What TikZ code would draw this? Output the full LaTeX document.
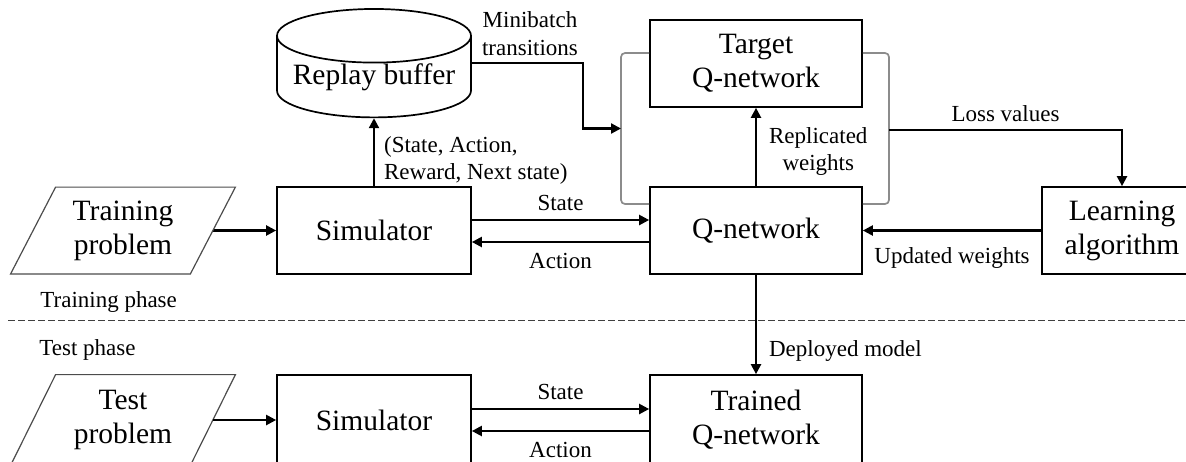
\documentclass[tikz,border=0pt]{standalone}
\usepackage{fontspec}
\setmainfont{Liberation Serif}
\usetikzlibrary{arrows.meta,shapes.geometric}

\newcommand{\boxfont}{\fontsize{14.75}{17}\selectfont}
\newcommand{\lblfont}{\fontsize{11.5}{13.75}\selectfont}

\begin{document}
\begin{tikzpicture}[x=0.5pt,y=-0.5pt,
  box/.style={draw,line width=0.85pt,minimum height=43.5pt,align=center,font=\boxfont,inner sep=0pt},
  probbox/.style={minimum width=89.5pt,minimum height=43pt,align=center,font=\boxfont,inner sep=0pt},
  probline/.style={draw=black!70,line width=0.6pt},
  arr/.style={line width=1.1pt,-{Triangle[length=5pt,width=5pt]}},
  lbl/.style={font=\lblfont,inner sep=2pt},
  frame/.style={draw=black!45,line width=0.85pt,rounded corners=2pt}]
  \useasboundingbox (0,0) rectangle (1186,461);

  % training phase
  \node[probbox] (trainprob) at (123,230.5) {Training\\problem};
  \node[box,minimum width=97pt] (sim) at (374,230.5) {Simulator};
  \node[draw,line width=0.85pt,cylinder,shape border rotate=90,aspect=0.33,
    minimum width=97pt,minimum height=54pt,font=\boxfont,inner sep=0pt] (buffer) at (374,77) {Replay buffer};
  \node[box,minimum width=106pt] (qnet) at (756,230.5) {Q-network};
  \node[box,minimum width=106pt] (target) at (756,63.5) {Target\\Q-network};
  \node[box,minimum width=80pt] (learn) at (1122,230.5) {Learning\\algorithm};

  % grey frame round both networks
  \draw[frame] (target.west |- 0,53) -- (621,53) -- (621,204) -- (qnet.west |- 0,204);
  \draw[frame] (target.east |- 0,53) -- (889,53) -- (889,204) -- (qnet.east |- 0,204);
  \coordinate (fl) at (621,128.5);
  \coordinate (fr) at (889,130);

  \draw[arr] (trainprob.east) -- (sim.west);
  \draw[arr] (sim.north) -- (buffer.south)
    node[lbl,pos=0.38,right=2.5pt,align=left] {(State, Action,\\Reward, Next state)};
  \draw[arr] (buffer.east |- 0,63) -- ++(111,0) |- (fl);
  \node[lbl,align=center] (mb) at (530,33.5) {Minibatch\\transitions};
  \draw[arr] (sim.east |- 0,220) -- (qnet.west |- 0,220) node[lbl,midway,above=2pt] {State};
  \draw[arr] (qnet.west |- 0,242) -- (sim.east |- 0,242) node[lbl,midway,below=3pt] {Action};
  \draw[arr] (qnet.north) -- (target.south)
    node[lbl,pos=0.44,right=4pt,align=center] {Replicated\\weights};
  \draw[arr] (fr) -| (learn.north) node[lbl,pos=0.25,above=1.5pt] {Loss values};
  \draw[arr] (learn.west) -- (qnet.east) node[lbl,midway,below=6pt] {Updated weights};

  % phase separator
  \node[lbl,anchor=base west] (trainlbl) at (36,307) {Training phase};
  \draw[black!75,line width=0.5pt,dash pattern=on 3.5pt off 1.5pt] (8,320) -- (1190,320);
  \node[lbl,anchor=base west] (testlbl) at (35,355) {Test phase};

  % test phase
  \node[probbox,minimum height=45pt] (testprob) at (123,420) {Test\\problem};
  \node[box,minimum width=97pt,minimum height=45pt] (sim2) at (374,420) {Simulator};
  \node[box,minimum width=106pt,minimum height=45pt] (trained) at (756,420) {Trained\\Q-network};

  % slanted outlines of the two problem inputs
  \foreach \p in {trainprob,testprob}
    \draw[probline] ([xshift=-11.25pt]\p.south west) -- ([xshift=-11.25pt]\p.south east)
      -- ([xshift=11.25pt]\p.north east) -- ([xshift=11.25pt]\p.north west) -- cycle;

  \draw[arr] (qnet.south) -- (trained.north) node[lbl,pos=0.77,right=4pt] {Deployed model};
  \draw[arr] (testprob.east) -- (sim2.west);
  \draw[arr] (sim2.east |- 0,409) -- (trained.west |- 0,409) node[lbl,midway,above=2pt] {State};
  \draw[arr] (trained.west |- 0,431) -- (sim2.east |- 0,431) node[lbl,midway,below=3pt] {Action};
\end{tikzpicture}
\end{document}
